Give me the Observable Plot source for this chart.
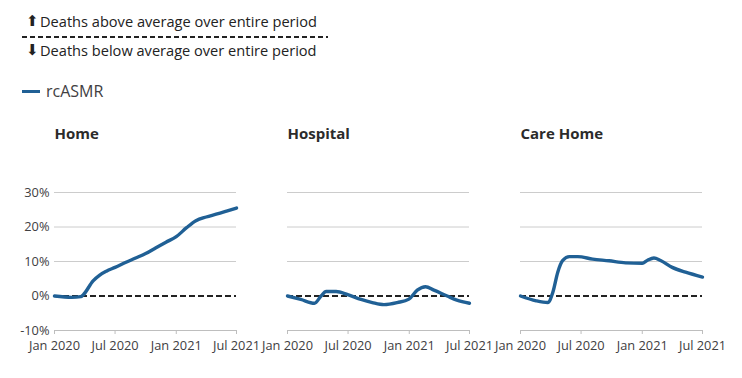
<!DOCTYPE html>
<html>
<head>
<meta charset="utf-8">
<script src="https://cdn.jsdelivr.net/npm/d3@7"></script>
<script src="https://cdn.jsdelivr.net/npm/@observablehq/plot@0.6"></script>
<style>
  body { margin: 0; background: #fff; font-family: "Open Sans", sans-serif; }
  #header { position: relative; width: 742px; height: 110px; color: #222; }
  .arrow { position: absolute; left: 26px; font-size: 15px; line-height: 18px; font-family: "DejaVu Sans", sans-serif; }
  .note { position: absolute; left: 40px; font-size: 14.6px; line-height: 18px; white-space: nowrap; }
  .dash { position: absolute; left: 22px; top: 36px; width: 306px; height: 2px;
          background: repeating-linear-gradient(90deg, #222 0 5px, transparent 5px 8px); }
  .legline { position: absolute; left: 22px; top: 90px; width: 18px; height: 3px; background: #206095; }
  .legtext { position: absolute; left: 46px; top: 80px; font-size: 16px; line-height: 22px; color: #414042; }
  #chart svg { display: block; }
</style>
</head>
<body>
<div id="header">
  <div class="arrow" style="top:12px">⬆</div>
  <div class="note" style="top:12px">Deaths above average over entire period</div>
  <div class="dash"></div>
  <div class="arrow" style="top:41px">⬇</div>
  <div class="note" style="top:41px">Deaths below average over entire period</div>
  <div class="legline"></div>
  <div class="legtext">rcASMR</div>
</div>
<div id="chart"></div>
<script>
const categories = ["Home", "Hospital", "Care Home"];
const yTicks = [-10, 0, 10, 20, 30];
const xTickLabels = ["2020-01-01", "2020-07-01", "2021-01-01", "2021-07-01"];

const homeDates = ["2020-01-01","2020-02-22","2020-03-20","2020-03-27","2020-04-26","2020-05-15","2020-06-05","2020-07-01","2020-08-01","2020-09-01","2020-10-01","2020-11-01","2020-12-01","2021-01-01","2021-02-01","2021-03-01","2021-04-01","2021-05-01","2021-06-01","2021-07-01"];
const homeValues = [0, -0.4, -0.2, 0.3, 4.4, 6.0, 7.2, 8.3, 9.7, 11.0, 12.3, 14.0, 15.6, 17.2, 19.8, 21.8, 22.9, 23.7, 24.6, 25.5];

const hospitalDates = ["2020-01-01","2020-02-10","2020-03-22","2020-04-11","2020-04-26","2020-05-26","2020-06-30","2020-08-09","2020-09-12","2020-10-17","2020-11-26","2020-12-31","2021-01-25","2021-02-19","2021-03-16","2021-04-25","2021-05-24","2021-07-01"];
const hospitalValues = [0, -1.0, -2.1, 0, 1.3, 1.3, 0.4, -1.0, -1.9, -2.5, -1.9, -0.9, 1.7, 2.7, 1.7, 0, -1.2, -2.1];

const careHomeDates = ["2020-01-01","2020-02-17","2020-03-23","2020-04-07","2020-04-22","2020-05-07","2020-05-27","2020-06-21","2020-08-05","2020-09-23","2020-11-12","2021-01-01","2021-01-16","2021-02-05","2021-02-25","2021-04-01","2021-05-11","2021-07-01"];
const careHomeValues = [0, -1.4, -1.9, 1.0, 6.9, 10.3, 11.4, 11.4, 10.7, 10.2, 9.6, 9.5, 10.3, 11.0, 10.3, 8.3, 6.9, 5.5];

const series = [
  ["Home", homeDates, homeValues],
  ["Hospital", hospitalDates, hospitalValues],
  ["Care Home", careHomeDates, careHomeValues]
];
const data = series.flatMap(([c, ds, vs]) => ds.map((d, i) => ({cat: c, date: new Date(d), value: vs[i]})));
const xTicks = xTickLabels.map(d => new Date(d));

const chart = Plot.plot({
  width: 742,
  height: 268,
  marginLeft: 53,
  marginRight: 40,
  marginTop: 82,
  marginBottom: 48,
  style: {fontFamily: "Open Sans, sans-serif", color: "#414042", background: "#fff"},
  fx: {domain: categories, paddingInner: 0.219, paddingOuter: 0, axis: null, label: null},
  x: {type: "utc", domain: [new Date("2020-01-01"), new Date("2021-07-01")], label: null},
  y: {domain: [-10, 30], label: null},
  marks: [
    Plot.ruleY([10, 20, 30], {stroke: "#cccccc", strokeWidth: 1}),
    Plot.ruleY([-10], {stroke: "#bebebe", strokeWidth: 1}),
    Plot.axisX({ticks: xTicks, tickFormat: d3.utcFormat("%b %Y"), tickSize: 4, tickPadding: 6, stroke: "#bebebe", fontSize: 12.8, fill: "#414042", label: null}),
    Plot.axisY({ticks: yTicks, tickFormat: d => d + "%", tickSize: 0, tickPadding: 5, fontSize: 12.8, fill: "#414042", label: null}),
    Plot.ruleY([0], {stroke: "#222", strokeWidth: 2, strokeDasharray: "6,3"}),
    Plot.line(data, {x: "date", y: "value", fx: "cat", stroke: "#206095", strokeWidth: 3.4, curve: "monotone-x"}),
    Plot.text(categories, {fx: d => d, text: d => d, frameAnchor: "top-left", dy: -64, fontSize: 15, fontWeight: 700, fill: "#2b2b2b", textAnchor: "start"})
  ]
});
document.getElementById("chart").appendChild(chart);
</script>
</body>
</html>
